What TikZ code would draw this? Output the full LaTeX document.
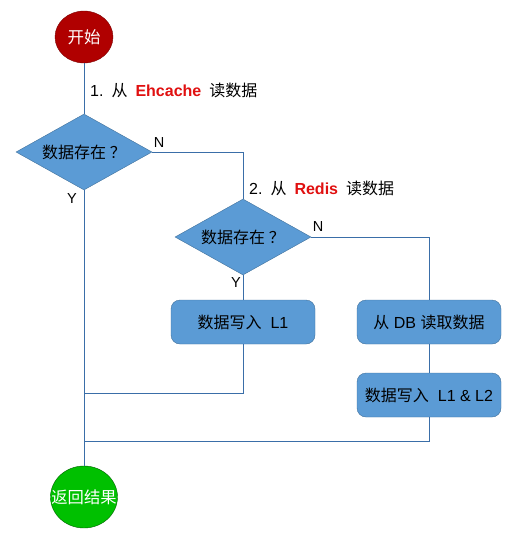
\documentclass[tikz,border=0pt]{standalone}
\usepackage{fontspec}
\setmainfont{Liberation Sans}
\newfontfamily\cjk{Noto Sans CJK SC}
\usetikzlibrary{positioning,shapes.geometric,shapes.misc}
\definecolor{flowfill}{HTML}{5B9BD5}
\definecolor{flowedge}{HTML}{41719C}
\definecolor{flowline}{HTML}{3A6EA8}
\definecolor{startred}{HTML}{B00000}
\definecolor{endgreen}{HTML}{00C000}
\definecolor{cachered}{HTML}{E01010}
\tikzset{
  fc/start/.style={draw=startred!70!black, fill=startred, ellipse, inner sep=0pt, minimum width=58pt, minimum height=52pt, text=white, font=\cjk\fontsize{16.5}{18}\selectfont},
  fc/end/.style={draw=endgreen!50!black, fill=endgreen, ellipse, inner sep=0pt, inner xsep=-14pt, minimum width=67pt, minimum height=62pt, text=white, font=\cjk\fontsize{16.3}{18}\selectfont},
  fc/decision/.style={draw=flowedge, fill=flowfill, diamond, aspect=1.8, inner sep=1pt, minimum width=136pt, minimum height=76pt, font=\fontsize{16}{18}\selectfont},
  fc/process/.style={draw=flowedge, fill=flowfill, rectangle, rounded corners=9pt, minimum width=144pt, minimum height=44pt, font=\fontsize{16}{18}\selectfont},
  fc/line/.style={draw=flowline, line width=0.9pt},
  fc/note/.style={anchor=west, inner sep=0pt, font=\fontsize{16}{18}\selectfont},
  fc/yn/.style={inner sep=0pt, font=\fontsize{14.5}{16}\selectfont}
}
\newcommand{\zh}[1]{{\cjk #1}}
\newcommand{\gap}{\hspace{8pt}}

\begin{document}
\begin{tikzpicture}[x=1pt, y=-1pt]
\useasboundingbox (0,0) rectangle (518,539);

% --- start and first lookup (Ehcache) ---
\node[fc/start] (start) at (84,37) {开始};
\node[fc/decision] (ehc) at (84,152) {\zh{数据存在 ？}};
\node[fc/note] (step1) at (90,90) {1.\gap\zh{从}\gap\textbf{\color{cachered}Ehcache}\gap\zh{读数据}};
\node[fc/yn] (ehcN) at (159,143) {N};
\node[fc/yn] (ehcY) at (72,199) {Y};

% --- second lookup (Redis) ---
\node[fc/decision] (red) at (243,237) {\zh{数据存在 ？}};
\node[fc/note] (step2) at (249,188) {2.\gap\zh{从}\gap\textbf{\color{cachered}Redis}\gap\zh{读数据}};
\node[fc/yn] (redN) at (318,227) {N};
\node[fc/yn] (redY) at (236,283) {Y};

% --- process boxes ---
\node[fc/process] (wl1) at (243,322) {\zh{数据写入}\ \ L1};
\node[fc/process] (db) at (429,322) {\zh{从} DB \zh{读取数据}};
\node[fc/process] (wl12) at (429,395) {\zh{数据写入}\ \ L1 \& L2};

% --- end ---
\node[fc/end] (end) at (84,497) {返回结果};

\coordinate (join1) at (84,393);
\coordinate (join2) at (84,441);

\draw[fc/line] (start) -- (ehc);
\draw[fc/line] (ehc.east) -| (red.north);
\draw[fc/line] (ehc.south) -- (end);
\draw[fc/line] (red.east) -| (db.north);
\draw[fc/line] (red.south) -- (wl1);
\draw[fc/line] (db) -- (wl12);
\draw[fc/line] (wl1.south) |- (join1);
\draw[fc/line] (wl12.south) |- (join2);

\end{tikzpicture}
\end{document}
